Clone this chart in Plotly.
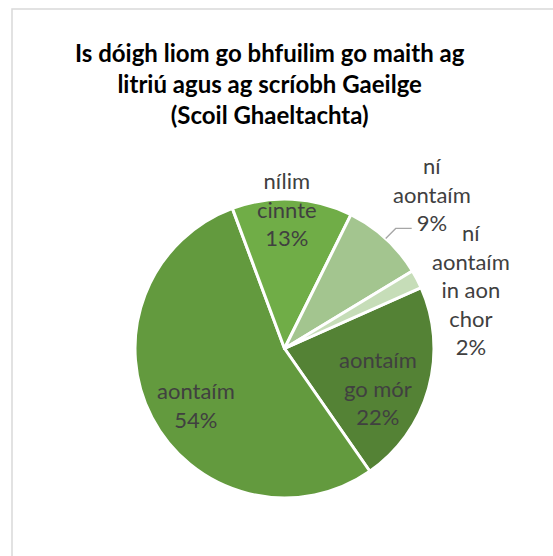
import math
import plotly.graph_objects as go

# Survey responses (share of pupils, %)
categories = ["aontaím go mór", "aontaím", "nílim cinnte", "ní aontaím", "ní aontaím in aon chor"]
shares = [22, 54, 13, 9, 2]
label_text = ["aontaím<br>go mór", "aontaím", "nílim<br>cinnte", "ní<br>aontaím", "ní<br>aontaím<br>in aon<br>chor"]

colors = ["#548235", "#639A3E", "#70AD47", "#A3C58F", "#C6DDB8"]

W, H = 553, 556
CX, CY, R = 284.5, 348.5, 149.5   # pie centre / radius in pixels
ROTATION = 66

# label placement: (fraction of radius, angular nudge in degrees)
label_place = [(0.68, 7.3), (0.70, -5.0), (0.93, -2.0), (1.43, 1.0), (1.31, 10.0)]


def px_to_paper(x, y):
    return x / W, 1 - y / H


fig = go.Figure(go.Pie(
    labels=categories,
    values=shares,
    sort=False,
    direction="clockwise",
    rotation=ROTATION,
    marker=dict(colors=colors, line=dict(color="white", width=3)),
    textinfo="none",
    hoverinfo="label+percent",
    domain=dict(x=[(CX - R) / W, (CX + R) / W], y=[1 - (CY + R) / H, 1 - (CY - R) / H]),
    showlegend=False,
))

annotations = []
shapes = []
total = sum(shares)
start = ROTATION
for i, (name, v) in enumerate(zip(label_text, shares)):
    span = 360 * v / total
    mid = start + span / 2
    frac, nudge = label_place[i]
    a = math.radians(mid + nudge)
    lx = CX + R * frac * math.sin(a)
    ly = CY - R * frac * math.cos(a)
    px, py = px_to_paper(lx, ly)
    pct = round(100 * v / total)
    annotations.append(dict(
        x=px, y=py, xref="paper", yref="paper",
        text=f"{name}<br>{pct}%", showarrow=False,
        xanchor="center", yanchor="middle", align="center",
        font=dict(family="Lato", size=22, color="#404040"),
    ))
    if categories[i] == "ní aontaím":
        am = math.radians(mid)
        ex = CX + R * math.sin(am)
        ey = CY - R * math.cos(am)
        pts = [(ex, ey), (ex + 10, ey - 10), (ex + 26, ey - 10)]
        path = "M " + " L ".join(f"{x/W:.5f},{1 - y/H:.5f}" for x, y in pts)
        shapes.append(dict(type="path", xref="paper", yref="paper", path=path,
                           line=dict(color="#A6A6A6", width=1.3)))
    start += span

annotations.append(dict(
    x=269.5 / W, y=1 - 84 / H, xref="paper", yref="paper",
    text="<b>Is dóigh liom go bhfuilim go maith ag<br>litriú agus ag scríobh Gaeilge<br>(Scoil Ghaeltachta)</b>",
    showarrow=False, xanchor="center", yanchor="middle", align="center",
    font=dict(family="Lato", size=24, color="#000000"),
))

# chart frame
shapes.append(dict(type="rect", xref="paper", yref="paper",
                   x0=12 / W, y0=-0.05, x1=1.05, y1=1 - 9 / H,
                   line=dict(color="#D9D9D9", width=1.5)))

fig.update_layout(
    width=W, height=H,
    margin=dict(l=0, r=0, t=0, b=0),
    paper_bgcolor="white",
    plot_bgcolor="white",
    annotations=annotations,
    shapes=shapes,
)

fig.write_html("out.html")
